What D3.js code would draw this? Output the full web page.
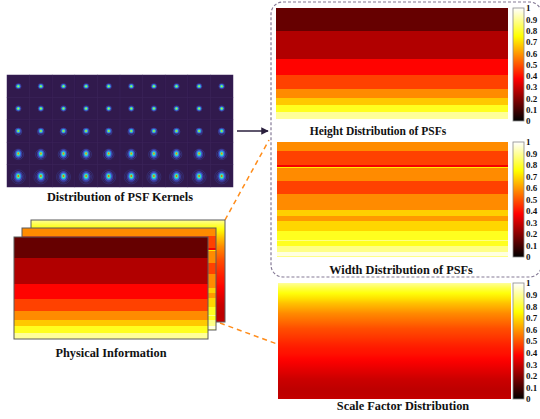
<!DOCTYPE html>
<html>
<head>
<meta charset="utf-8">
<script src="https://cdn.jsdelivr.net/npm/d3@7"></script>
<style>
  body { margin: 0; background: #fff; }
  text { font-family: "Liberation Serif", "Times New Roman", serif; font-weight: bold; }
</style>
</head>
<body>
<div id="chart"></div>
<script>
// PSF kernel grid: per row of kernels (top to bottom)
var psfCols = 10;
var psfPeak = [0.6, 0.62, 0.72, 0.78, 0.82];    // turbo value at kernel centre
var psfSize = [1.5, 1.5, 1.6, 1.9, 2.1];        // blob radius
var psfRings = [0, 0, 1, 2, 3];                 // number of faint diffraction rings

// heatmap rows as [value, number of rows] runs, top to bottom
var heightRuns = [[0.15, 10], [0.26, 12], [0.38, 7], [0.47, 6], [0.58, 4], [0.67, 3], [0.78, 3], [0.9, 3]];
var widthRuns = [[0.58, 8], [0.47, 12], [0.36, 2], [0.72, 1], [0.58, 11], [0.47, 11], [0.58, 14],
                 [0.68, 5], [0.6, 5], [0.69, 8], [0.78, 8], [0.88, 1], [0.78, 4], [0.88, 6], [0.97, 3], [0.88, 1]];
// scale factor: smooth vertical profile, top to bottom
var scaleProfile = [0.9, 0.82, 0.76, 0.71, 0.66, 0.62, 0.58, 0.55, 0.52, 0.49, 0.47, 0.45,
                    0.43, 0.41, 0.4, 0.38, 0.36, 0.34, 0.32, 0.3, 0.29, 0.28, 0.28, 0.29];
var cbTicks = [0, 0.1, 0.2, 0.3, 0.4, 0.5, 0.6, 0.7, 0.8, 0.9, 1];

var width = 540, height = 419;

var svg = d3.select("#chart").append("svg")
    .attr("width", width)
    .attr("height", height);
var defs = svg.append("defs");

// matlab-style "hot" colormap
var hot = d3.scaleLinear()
    .domain([0, 0.375, 0.75, 1])
    .range(["#000000", "#ff0000", "#ffff00", "#ffffff"])
    .clamp(true);

function expand(runs) {
    var out = [];
    runs.forEach(function (r) { for (var i = 0; i < r[1]; i++) out.push(r[0]); });
    return out;
}

var gradId = 0;
function profileGradient(values) {
    var id = "grad" + (gradId++);
    var g = defs.append("linearGradient").attr("id", id)
        .attr("x1", 0).attr("y1", 0).attr("x2", 0).attr("y2", 1);
    var pos = d3.scaleLinear().domain([0, values.length - 1]).range([0, 1]);
    values.forEach(function (v, i) {
        g.append("stop").attr("offset", pos(i)).attr("stop-color", hot(v));
    });
    return "url(#" + id + ")";
}

// draws banded heatmap (rows) or smooth profile into a box
function heatmap(g, x, y, w, h, rows, smooth) {
    if (smooth) {
        g.append("rect").attr("x", x).attr("y", y).attr("width", w).attr("height", h)
            .attr("fill", profileGradient(rows));
        return;
    }
    var yScale = d3.scaleBand().domain(d3.range(rows.length)).range([y, y + h]);
    g.selectAll(null).data(rows).enter().append("rect")
        .attr("x", x)
        .attr("y", function (d, i) { return yScale(i); })
        .attr("width", w)
        .attr("height", function (d, i) { return i === rows.length - 1 ? yScale.bandwidth() : yScale.bandwidth() + 1; })
        .attr("fill", function (d) { return hot(d); })
        .attr("shape-rendering", "crispEdges");
}

function colorbar(x, y, w, h) {
    var cb = svg.append("g");
    var barVals = [1, 0.75, 0.375, 0];
    var id = "grad" + (gradId++);
    var g = defs.append("linearGradient").attr("id", id)
        .attr("x1", 0).attr("y1", 0).attr("x2", 0).attr("y2", 1);
    barVals.forEach(function (v) {
        g.append("stop").attr("offset", 1 - v).attr("stop-color", hot(v));
    });
    cb.append("rect").attr("x", x).attr("y", y).attr("width", w).attr("height", h)
        .attr("fill", "url(#" + id + ")")
        .attr("stroke", "#8a8a8a").attr("stroke-width", 0.8);
    var s = d3.scaleLinear().domain([0, 1]).range([y + h, y]);
    var axis = cb.append("g").attr("transform", "translate(" + (x + w) + ",0)")
        .call(d3.axisRight(s).tickValues(cbTicks).tickSize(0).tickPadding(2)
            .tickFormat(function (d) { return d === 0 || d === 1 ? d3.format("d")(d) : d3.format(".1f")(d); }));
    axis.select(".domain").remove();
    axis.selectAll("text")
        .style("font-family", "'Liberation Serif', serif")
        .style("font-weight", "bold")
        .style("font-size", "9px")
        .attr("fill", "#111");
}

function title(x, y, str, size) {
    svg.append("text").attr("x", x).attr("y", y)
        .attr("text-anchor", "middle")
        .attr("font-size", size + "px")
        .attr("fill", "#111")
        .text(str);
}

// ---- PSF kernel grid ----
var psf = svg.append("g");
var px = d3.scaleBand().domain(d3.range(psfCols)).range([7, 233]);
var py = d3.scaleBand().domain(d3.range(psfPeak.length)).range([75, 187]);
psf.append("rect").attr("x", 7).attr("y", 75).attr("width", 226).attr("height", 112)
    .attr("fill", "#311a4d");

psfPeak.forEach(function (peak, r) {
    d3.range(psfCols).forEach(function (c) {
        var cx = px(c) + px.bandwidth() / 2;
        var cy = py(r) + py.bandwidth() / 2;
        var tile = psf.append("g");
        tile.append("rect")
            .attr("x", px(c)).attr("y", py(r))
            .attr("width", px.bandwidth()).attr("height", py.bandwidth())
            .attr("fill", "none").attr("stroke", "#3a2358").attr("stroke-width", 0.5);
        var s = psfSize[r];
        // faint diffraction rings, spreading downwards
        for (var k = psfRings[r]; k >= 1; k--) {
            tile.append("circle")
                .attr("cx", cx).attr("cy", cy + s * 0.5)
                .attr("r", s * 1.2 + k * 1.5)
                .attr("fill", "none")
                .attr("stroke", d3.interpolateTurbo(0.14))
                .attr("stroke-width", 0.6)
                .attr("opacity", 0.55 - 0.08 * k);
        }
        var down = r >= 3 ? s * 0.35 : 0;
        var layers = [[2.4, 0.1, 0.45], [1.7, 0.16, 0.8], [1.2, 0.28, 1], [0.8, 0.45, 1], [0.45, peak, 1]];
        layers.forEach(function (l) {
            tile.append("ellipse")
                .attr("cx", cx).attr("cy", cy + down * (l[0] / 2.4))
                .attr("rx", s * l[0] * 0.85).attr("ry", s * l[0] * (r >= 3 ? 1.1 : 0.85))
                .attr("fill", d3.interpolateTurbo(l[1]))
                .attr("opacity", l[2]);
        });
    });
});
title(120, 201, "Distribution of PSF Kernels", 12.3);

// ---- arrow ----
defs.append("marker").attr("id", "arrow")
    .attr("viewBox", "0 0 10 10").attr("refX", 9).attr("refY", 5)
    .attr("markerWidth", 5).attr("markerHeight", 5).attr("orient", "auto")
    .append("path").attr("d", "M0,0L10,5L0,10Z").attr("fill", "#2a1f3d");
svg.append("line").attr("x1", 237).attr("y1", 131).attr("x2", 268).attr("y2", 131)
    .attr("stroke", "#2a1f3d").attr("stroke-width", 1.5)
    .attr("marker-end", "url(#arrow)");

// ---- orange dashed connectors ----
svg.append("line").attr("x1", 225).attr("y1", 220).attr("x2", 269).attr("y2", 140)
    .attr("stroke", "#ff8c1a").attr("stroke-width", 1.5).attr("stroke-dasharray", "5,4");
svg.append("line").attr("x1", 220).attr("y1", 323).attr("x2", 277).attr("y2", 344)
    .attr("stroke", "#ff8c1a").attr("stroke-width", 1.5).attr("stroke-dasharray", "5,4");

// ---- physical information stack ----
var heightRows = expand(heightRuns);
var widthRows = expand(widthRuns);
var stack = [
    {x: 31, y: 220, rows: scaleProfile, smooth: true},
    {x: 22, y: 228, rows: widthRows, smooth: false},
    {x: 14, y: 237, rows: heightRows, smooth: false}
];
stack.forEach(function (card) {
    var g = svg.append("g");
    g.append("rect").attr("x", card.x).attr("y", card.y).attr("width", 194).attr("height", 102)
        .attr("fill", "#fff");
    heatmap(g, card.x, card.y, 194, 102, card.rows, card.smooth);
    g.append("rect").attr("x", card.x).attr("y", card.y).attr("width", 194).attr("height", 102)
        .attr("fill", "none").attr("stroke", "#5a5a5a").attr("stroke-width", 1);
});
title(111, 357, "Physical Information", 12.3);

// ---- dashed group box (right edge runs just past the page) ----
svg.append("rect").attr("x", 271).attr("y", 2).attr("width", 270.5).attr("height", 275)
    .attr("rx", 12).attr("ry", 12)
    .attr("fill", "none").attr("stroke", "#857a96").attr("stroke-width", 1.2)
    .attr("stroke-dasharray", "3,2");

// ---- right panels ----
heatmap(svg.append("g"), 276, 8, 232, 111, heightRows, false);
colorbar(513, 8, 11, 113);
title(378, 135, "Height Distribution of PSFs", 11.5);

heatmap(svg.append("g"), 277, 142, 231, 115, widthRows, false);
colorbar(513, 142, 11, 115);
title(401, 274, "Width Distribution of PSFs", 12.3);

heatmap(svg.append("g"), 278, 283, 233, 116, scaleProfile, true);
colorbar(513, 283, 11, 116);
title(403, 410, "Scale Factor Distribution", 12.3);
</script>
</body>
</html>
